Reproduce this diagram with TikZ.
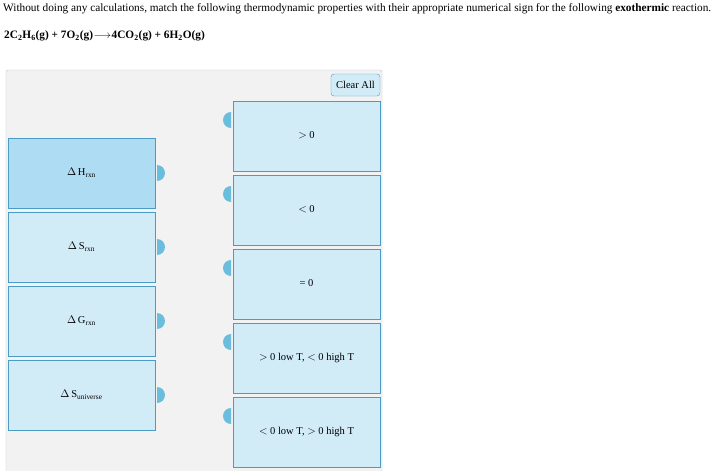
\documentclass[tikz,border=0pt]{standalone}
\usepackage{fontspec}
\setmainfont{Liberation Serif}
\begin{document}
\begin{tikzpicture}[x=1pt,y=-1pt,
  every node/.style={font=\fontsize{10.5}{13}\selectfont},
  box/.style={draw=boxline,line width=0.8pt,fill=boxfill,minimum width=147pt,minimum height=70pt,inner sep=0pt},
  knob/.style={fill=knobc,draw=none}]
\definecolor{boxline}{HTML}{4A9CC4}
\definecolor{boxfill}{HTML}{D1EBF7}
\definecolor{selfill}{HTML}{AEDDF3}
\definecolor{knobc}{HTML}{6BBDDE}
\definecolor{panel}{HTML}{F2F2F2}
\definecolor{panelline}{HTML}{B8C4D0}
\useasboundingbox (0,0) rectangle (716,471);
\fill[white] (0,0) rectangle (716,471);
\node[anchor=west,inner sep=0,font=\fontsize{11.3}{13}\selectfont] (q) at (3,9) {Without doing any calculations, match the following thermodynamic properties with their appropriate numerical sign for the following \textbf{exothermic} reaction.};
\node[anchor=west,inner sep=0,font=\fontsize{11.3}{13}\selectfont] (eq) at (4,36) {\textbf{2C\textsubscript{2}H\textsubscript{6}(g) + 7O\textsubscript{2}(g)}\hspace{0.5pt}$\longrightarrow$\hspace{0.5pt}\textbf{4CO\textsubscript{2}(g) + 6H\textsubscript{2}O(g)}};
\draw[panelline,fill=panel,rounded corners=2pt] (6,70) -- (6,474) -- (382,474) -- (382,70) -- cycle;
\node[draw=boxline,fill=boxfill,rounded corners=3pt,minimum width=49pt,minimum height=22pt,inner sep=0] (clr) at (355.5,85) {Clear All};
\foreach \i/\t/\f in {0/{$\Delta$\,H\textsubscript{rxn}}/selfill,1/{$\Delta$\,S\textsubscript{rxn}}/boxfill,2/{$\Delta$\,G\textsubscript{rxn}}/boxfill,3/{$\Delta$\,S\textsubscript{universe}}/boxfill}{
  \node[box,fill=\f] (L\i) at (81.5,173+74*\i) {\raisebox{2pt}{\t}};
  \fill[knobc] (157,173+74*\i+8) arc (90:-90:8) -- cycle;
}
\foreach \i/\t in {0/{$>$ 0},1/{$<$ 0},2/{= 0},3/{$>$ 0 low T, $<$ 0 high T},4/{$<$ 0 low T, $>$ 0 high T}}{
  \node[box] (R\i) at (306.5,136+74*\i) {\raisebox{2pt}{\t}};
  \fill[knobc] (231,136+74*\i-8) arc (90:270:8) -- cycle;
}
\end{tikzpicture}
\end{document}
